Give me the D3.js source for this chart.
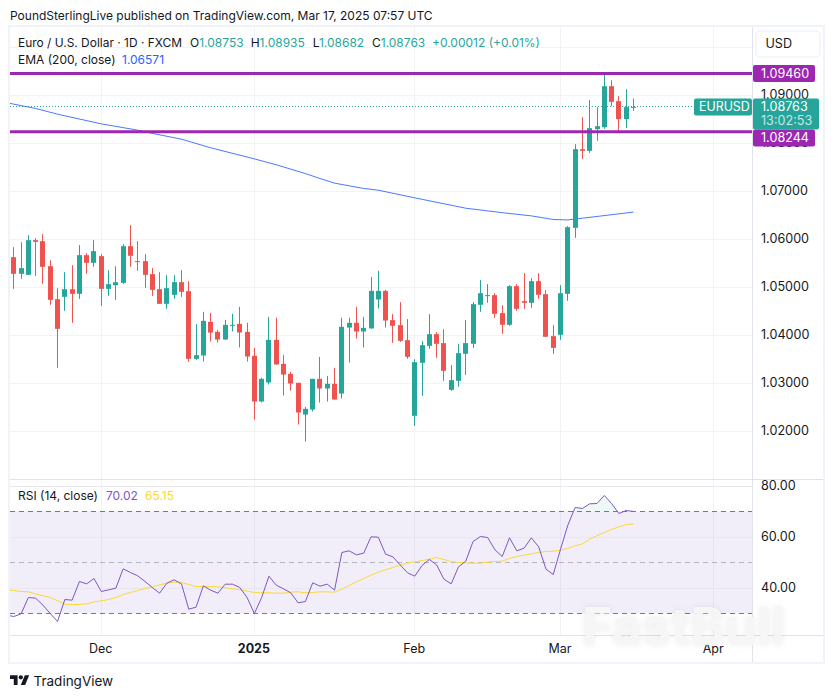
<!DOCTYPE html>
<html>
<head>
<meta charset="utf-8">
<script src="https://cdn.jsdelivr.net/npm/d3@7"></script>
<style>
  html, body { margin: 0; padding: 0; background: #fff; }
  svg { display: block; }
  text { font-family: Inter, "Noto Sans", sans-serif; fill: #131722; }
</style>
</head>
<body>
<svg id="chart" width="834" height="698"></svg>
<script>
// daily EURUSD candles, first one is x index 0
var opens = [1.05632,1.05285,1.05264,1.05986,1.05965,1.05444,1.04757,1.04806,1.04965,1.04868,
  1.05674,1.05514,1.05653,1.04972,1.05049,1.05097,1.05861,1.05549,1.05549,1.05278,
  1.04965,1.04660,1.04847,1.05111,1.04924,1.03514,1.03583,1.04284,1.04076,1.03916,
  1.04201,1.04243,1.04076,1.03576,1.02625,1.03021,1.03909,1.03409,1.03201,1.03014,
  1.02354,1.02458,1.03097,1.02896,1.02993,1.02791,1.04166,1.04264,1.04083,1.04146,
  1.04750,1.04930,1.04320,1.04216,1.03903,1.02327,1.03431,1.03785,1.04028,1.03841,
  1.02868,1.03056,1.03618,1.03827,1.04639,1.04820,1.04841,1.04466,1.04223,1.05028,
  1.04716,1.04681,1.05132,1.04861,1.03986,1.04014,1.04868,1.06243,1.07882,1.07847,
  1.08299,1.08340,1.09194,1.08882,1.08507,1.08753];
var highs = [1.05840,1.05944,1.06090,1.06028,1.06111,1.05569,1.04986,1.05319,1.05465,1.05882,
  1.05715,1.05986,1.05694,1.05361,1.05444,1.05903,1.06299,1.05965,1.05694,1.05403,
  1.05319,1.05257,1.05257,1.05361,1.05132,1.04236,1.04493,1.04472,1.04118,1.04326,
  1.04451,1.04597,1.04264,1.03743,1.03118,1.04389,1.04368,1.03597,1.03243,1.03014,
  1.02514,1.03097,1.03555,1.03159,1.03326,1.04368,1.04368,1.04597,1.04389,1.05222,
  1.05347,1.04951,1.04445,1.04695,1.04341,1.03507,1.03882,1.04445,1.04070,1.04132,
  1.03382,1.03820,1.04320,1.04695,1.05153,1.05070,1.04882,1.04632,1.05049,1.05070,
  1.05299,1.05195,1.05299,1.04945,1.04216,1.05049,1.06278,1.07986,1.08549,1.08903,
  1.08757,1.09486,1.09319,1.08986,1.09132,1.08935];
var lows = [1.04972,1.05181,1.05264,1.05243,1.05076,1.04639,1.03326,1.04514,1.04264,1.04764,
  1.05285,1.05431,1.04618,1.04826,1.04743,1.05076,1.05431,1.05347,1.04993,1.04826,
  1.04660,1.04556,1.04764,1.04806,1.03451,1.03493,1.03458,1.03875,1.03854,1.03909,
  1.04083,1.03750,1.03458,1.02250,1.02604,1.02979,1.03396,1.02750,1.02854,1.02146,
  1.01791,1.02416,1.02604,1.02625,1.02666,1.02687,1.03437,1.03937,1.03750,1.04146,
  1.04562,1.04166,1.03848,1.03868,1.03514,1.02118,1.02743,1.03723,1.03535,1.03056,
  1.02848,1.02931,1.03181,1.03743,1.04493,1.04681,1.04368,1.04035,1.04202,1.04514,
  1.04556,1.04577,1.04764,1.03973,1.03618,1.03910,1.04723,1.06035,1.07681,1.07806,
  1.08056,1.08306,1.08778,1.08243,1.08319,1.08682];
var closes = [1.05285,1.05403,1.05986,1.05951,1.05431,1.04743,1.04139,1.04965,1.04868,1.05674,
  1.05514,1.05757,1.04972,1.05069,1.05111,1.05861,1.05660,1.05528,1.05264,1.04951,
  1.04660,1.04986,1.05111,1.04910,1.03514,1.03590,1.04305,1.04062,1.03916,1.04222,
  1.04222,1.04062,1.03562,1.02625,1.03097,1.03909,1.03396,1.03187,1.03000,1.02396,
  1.02472,1.03097,1.02896,1.02993,1.02666,1.04180,1.04264,1.04083,1.04159,1.04930,
  1.04930,1.04312,1.04202,1.03889,1.03556,1.03445,1.03799,1.04028,1.03827,1.03264,
  1.03070,1.03632,1.03841,1.04653,1.04882,1.04841,1.04452,1.04223,1.05028,1.04556,
  1.04681,1.05132,1.04848,1.03973,1.03743,1.04882,1.06257,1.07882,1.07847,1.08319,
  1.08361,1.09194,1.08868,1.08507,1.08757,1.08763];

// EMA 200, a smooth line so read at a handful of bars
var emaIdx = [-1,3,6,12,17,19,23,27,33,36,40,42,44,48,50,55,62,67,71,74,76,78,85];
var emaVals = [1.0885,1.08730,1.08611,1.08409,1.08278,1.08211,1.08090,1.07911,1.07680,1.07557,
  1.07374,1.07271,1.07174,1.07063,1.07027,1.06868,1.06652,1.06559,1.06492,1.06417,1.06408,1.06444,1.06571];

// RSI and its average, one value per bar, starting one bar left of the first candle
var rsiVals = [29.35,28.82,29.87,36.27,36.01,33.27,30.00,26.86,35.49,35.23,42.55,41.63,43.73,38.63,39.28,39.93,
  47.52,46.08,44.77,42.55,40.20,37.97,41.90,43.20,41.63,31.70,32.48,40.85,39.15,37.97,41.50,41.50,
  40.20,36.27,30.00,36.27,44.64,41.11,39.67,38.10,34.18,34.71,42.03,40.72,41.50,39.15,53.92,54.58,
  53.01,53.66,60.07,59.93,53.27,52.22,49.08,45.95,44.64,48.82,51.18,49.08,43.46,41.63,48.30,50.52,
  58.24,60.20,59.80,54.97,52.35,59.67,54.58,55.62,59.67,56.14,47.39,45.29,55.23,64.64,71.57,71.18,
  73.01,73.14,76.27,73.14,69.22,70.39,70.02];
var rsiMaVals = [39.28,39.02,38.63,38.50,37.71,36.93,36.28,34.97,33.66,33.53,33.53,33.79,34.58,34.97,35.49,36.28,
  37.45,38.24,39.02,39.81,40.46,41.24,41.90,42.29,42.16,41.37,40.59,40.59,40.59,40.46,40.07,39.68,
  39.41,38.76,38.24,38.11,38.11,37.98,37.98,38.37,38.50,38.11,38.24,38.50,38.50,38.37,39.54,40.98,
  42.42,43.73,45.04,46.21,47.13,48.04,48.96,49.87,50.26,50.79,51.31,51.96,51.18,50.39,50.00,49.87,
  49.74,49.74,50.13,50.39,50.53,51.57,52.36,52.88,53.40,53.92,54.32,54.45,54.84,55.49,56.54,57.32,
  59.15,60.46,61.77,62.94,63.99,64.90,65.15];

var levels = [1.0946, 1.08244];
var lastPrice = 1.08763;
var priceTicks = [1.02,1.03,1.04,1.05,1.06,1.07,1.08,1.09];
var priceGrid = [1.02,1.03,1.04,1.05,1.06,1.07,1.08,1.09,1.10];
var rsiTicks = [40,60,80];
var rsiDashed = [30,50,70];
var monthIdx = [12,33,55,75,96];
var monthLabels = ["Dec","2025","Feb","Mar","Apr"];

var GREEN = "#26a69a", RED = "#ef5350", PURPLE = "#9c27b0", GRID = "#f2f3f5", BORDER = "#e0e3eb";

var svg = d3.select("#chart");
var paneLeft = 10, paneRight = 752, paneTop = 26, priceBottom = 479, rsiBottom = 635, frameBottom = 663;

var x = d3.scaleLinear().domain([0,85]).range([13.8,633.45]);
var y = d3.scaleLinear().domain([1.02,1.09]).range([431.5,95.5]);
var yRsi = d3.scaleLinear().domain([30,70]).range([613.5,511.5]);

function crisp(v) { return Math.floor(v) + 0.5; }

var defs = svg.append("defs");
defs.append("clipPath").attr("id","paneClip").append("rect")
  .attr("x",paneLeft).attr("y",paneTop).attr("width",paneRight-paneLeft).attr("height",rsiBottom-paneTop);
defs.append("clipPath").attr("id","obClip").append("rect")
  .attr("x",paneLeft).attr("y",paneTop).attr("width",paneRight-paneLeft).attr("height",yRsi(70)-paneTop);

// grid
svg.append("g").selectAll("line").data(priceGrid).join("line")
  .attr("x1",paneLeft).attr("x2",paneRight)
  .attr("y1",function(d){return crisp(y(d));}).attr("y2",function(d){return crisp(y(d));})
  .attr("stroke",GRID);
svg.append("g").selectAll("line").data(monthIdx).join("line")
  .attr("x1",function(d){return crisp(x(d));}).attr("x2",function(d){return crisp(x(d));})
  .attr("y1",paneTop).attr("y2",rsiBottom)
  .attr("stroke",GRID);

// rsi pane background
svg.append("rect").attr("x",paneLeft).attr("width",paneRight-paneLeft)
  .attr("y",yRsi(70)).attr("height",yRsi(30)-yRsi(70))
  .attr("fill","#7e57c2").attr("fill-opacity",0.1);
svg.append("g").selectAll("line").data(rsiTicks).join("line")
  .attr("x1",paneLeft).attr("x2",paneRight)
  .attr("y1",function(d){return crisp(yRsi(d));}).attr("y2",function(d){return crisp(yRsi(d));})
  .attr("stroke","#e8e6ee");
svg.append("g").selectAll("line").data(rsiDashed).join("line")
  .attr("x1",paneLeft).attr("x2",paneRight)
  .attr("y1",function(d){return crisp(yRsi(d));}).attr("y2",function(d){return crisp(yRsi(d));})
  .attr("stroke","#787b86")
  .attr("stroke-opacity",function(d){return d==50 ? 0.5 : 1;})
  .attr("stroke-dasharray","5 4");

// last price dotted line
svg.append("line").attr("x1",paneLeft).attr("x2",694)
  .attr("y1",crisp(y(lastPrice))).attr("y2",crisp(y(lastPrice)))
  .attr("stroke",GREEN).attr("stroke-dasharray","1 2");

var plot = svg.append("g").attr("clip-path","url(#paneClip)");

// ema
var emaLine = d3.line().x(function(d,i){return x(emaIdx[i]);}).y(function(d){return y(d);});
plot.append("path").attr("d",emaLine(emaVals))
  .attr("fill","none").attr("stroke","#2962ff").attr("stroke-opacity",0.85).attr("stroke-width",1);

// candles
var candles = plot.append("g").selectAll("g").data(closes).join("g");
candles.append("line")
  .attr("x1",function(d,i){return crisp(x(i));}).attr("x2",function(d,i){return crisp(x(i));})
  .attr("y1",function(d,i){return y(highs[i]);}).attr("y2",function(d,i){return y(lows[i]);})
  .attr("stroke",function(d,i){return d>=opens[i] ? GREEN : RED;})
  .attr("stroke-width",1);
candles.append("rect")
  .attr("x",function(d,i){return crisp(x(i))-2.5;})
  .attr("width",5)
  .attr("y",function(d,i){return y(Math.max(d,opens[i]));})
  .attr("height",function(d,i){return Math.max(1,Math.abs(y(d)-y(opens[i])));})
  .attr("fill",function(d,i){return d>=opens[i] ? GREEN : RED;});

// horizontal levels
svg.append("g").selectAll("line").data(levels).join("line")
  .attr("x1",paneLeft).attr("x2",paneRight)
  .attr("y1",function(d){return y(d);}).attr("y2",function(d){return y(d);})
  .attr("stroke",PURPLE).attr("stroke-width",3);

// rsi
var rsiLine = d3.line().x(function(d,i){return x(i-1);}).y(function(d){return yRsi(d);});
var rsiArea = d3.area().x(function(d,i){return x(i-1);}).y0(yRsi(70)).y1(function(d){return yRsi(d);});
plot.append("path").attr("d",rsiArea(rsiVals)).attr("clip-path","url(#obClip)")
  .attr("fill",GREEN).attr("fill-opacity",0.08);
plot.append("path").attr("d",rsiLine(rsiMaVals))
  .attr("fill","none").attr("stroke","#fdd835").attr("stroke-width",1);
plot.append("path").attr("d",rsiLine(rsiVals))
  .attr("fill","none").attr("stroke","#7e57c2").attr("stroke-width",1);

// separators and frame
[priceBottom,rsiBottom].forEach(function(v){
  svg.append("line").attr("x1",paneLeft).attr("x2",824).attr("y1",v+0.5).attr("y2",v+0.5).attr("stroke",BORDER);
});
svg.append("line").attr("x1",paneRight+0.5).attr("x2",paneRight+0.5).attr("y1",paneTop).attr("y2",frameBottom).attr("stroke",BORDER);
svg.append("rect").attr("x",paneLeft-1).attr("y",paneTop).attr("width",824-paneLeft+1).attr("height",frameBottom-paneTop)
  .attr("fill","none").attr("stroke","#f0f3fa").attr("stroke-width",2);

// axes
var priceAxis = d3.axisRight(y).tickValues(priceTicks).tickFormat(d3.format(".5f")).tickSize(0).tickPadding(0);
var pa = svg.append("g").attr("transform","translate(761,-1.5)").call(priceAxis);
var rsiAxis = d3.axisRight(yRsi).tickValues(rsiTicks).tickFormat(d3.format(".2f")).tickSize(0).tickPadding(0);
var ra = svg.append("g").attr("transform","translate(761,-1)").call(rsiAxis);
var timeAxis = d3.axisBottom(x).tickValues(monthIdx).tickFormat(function(d,i){return monthLabels[i];}).tickSize(0).tickPadding(0);
var ta = svg.append("g").attr("transform","translate(-1,644)").call(timeAxis);
[pa,ra,ta].forEach(function(a){
  a.select(".domain").remove();
  a.selectAll("text").attr("font-size",12.6).attr("font-family",null).style("fill","#131722");
  a.attr("font-family",null).attr("font-size",null);
});
ta.selectAll("text").attr("font-size",12.5).attr("font-weight",function(d,i){return monthLabels[i]=="2025" ? 700 : 400;});

// USD box
svg.append("rect").attr("x",756).attr("y",31).attr("width",64).attr("height",26).attr("rx",4)
  .attr("fill","#fff").attr("stroke","#f0f3fa").attr("stroke-width",1.5);
svg.append("text").attr("x",765.5).attr("y",48).attr("font-size",12.6).text("USD");

// last price tags
var lastTop = y(lastPrice)-8.5;
svg.append("rect").attr("x",694).attr("y",lastTop).attr("width",58).attr("height",17).attr("rx",2).attr("fill",GREEN);
svg.append("text").attr("x",699).attr("y",lastTop+13).attr("font-size",12.4).style("fill","#fff").text("EURUSD");
svg.append("rect").attr("x",753).attr("y",lastTop).attr("width",66).attr("height",31).attr("rx",2).attr("fill",GREEN);
svg.append("text").attr("x",761).attr("y",lastTop+13).attr("font-size",12.6).style("fill","#fff").text(d3.format(".5f")(lastPrice));
svg.append("text").attr("x",761).attr("y",lastTop+27).attr("font-size",12.6).style("fill","#fff").style("fill-opacity",0.75).text("13:02:53");

// level tags, pushed below the last price tag when they would collide with it
function tagTop(d) { return d<lastPrice ? Math.max(y(d)-8.3,lastTop+31) : y(d)-8.3; }
var tags = svg.append("g").selectAll("g").data(levels).join("g");
tags.append("rect").attr("x",753).attr("y",tagTop).attr("width",62).attr("height",17).attr("rx",2).attr("fill",PURPLE);
tags.append("text").attr("x",761).attr("y",function(d){return tagTop(d)+13;}).attr("font-size",12.6).style("fill","#fff").text(d3.format(".5f"));

// header and legends
svg.append("text").attr("x",10).attr("y",20).attr("font-size",12).text("PoundSterlingLive published on TradingView.com, Mar 17, 2025 07:57 UTC");

var legendLabels = ["O","H","L","C"];
var legendStarts = [190,250.7,312.7,372];
var legendVals = ["1.08753","1.08935","1.08682","1.08763"];
svg.append("text").attr("x",18).attr("y",47).attr("font-size",12).attr("textLength",164).attr("lengthAdjust","spacingAndGlyphs").text("Euro / U.S. Dollar · 1D · FXCM");
legendLabels.forEach(function(l,i){
  var t = svg.append("text").attr("x",legendStarts[i]).attr("y",47).attr("font-size",12);
  t.append("tspan").text(l);
  t.append("tspan").style("fill",GREEN).text(legendVals[i]);
});
svg.append("text").attr("x",432).attr("y",47).attr("font-size",12).style("fill",GREEN).text("+0.00012 (+0.01%)");
svg.append("text").attr("x",18).attr("y",64).attr("font-size",12).text("EMA (200, close)");
svg.append("text").attr("x",122).attr("y",64).attr("font-size",12).style("fill","#2962ff").text("1.06571");
svg.append("text").attr("x",18).attr("y",500).attr("font-size",12).text("RSI (14, close)");
svg.append("text").attr("x",106).attr("y",500).attr("font-size",12).style("fill","#7e57c2").text("70.02");
svg.append("text").attr("x",145).attr("y",500).attr("font-size",12).style("fill","#fdd835").text("65.15");

// watermark
svg.append("text").attr("x",582).attr("y",645).attr("font-size",52).attr("font-weight",700)
  .style("fill","#f5f5f5").style("fill-opacity",0.95)
  .style("filter","drop-shadow(0 0 3px rgba(0,0,0,0.08))").text("FastBull");

// footer logo
var logo = svg.append("g").attr("transform","translate(10,673) scale(0.54)").attr("fill","#131722");
logo.append("path").attr("d","M14 22H7V11H0V4h14v18zM28 22h-8l7.5-18h8L28 22z");
logo.append("circle").attr("cx",20).attr("cy",8).attr("r",4);
svg.append("text").attr("x",33.5).attr("y",686).attr("font-size",13.5).text("TradingView");
</script>
</body>
</html>
